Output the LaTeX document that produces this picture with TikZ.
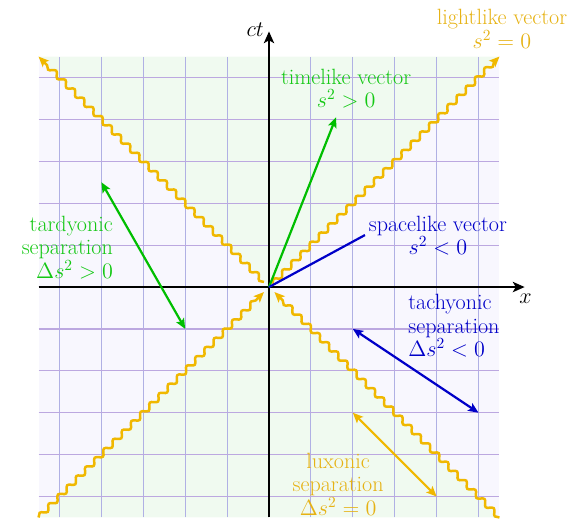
\documentclass[tikz,border=0pt]{standalone}
\usepackage{fix-cm}
\usepackage{tikz}
\usetikzlibrary{arrows.meta,decorations.pathmorphing}
\definecolor{gold}{RGB}{240,184,0}
\definecolor{gtxt}{RGB}{230,178,20}
\definecolor{grn}{RGB}{0,190,0}
\definecolor{gtx}{RGB}{20,200,20}
\definecolor{blu}{RGB}{0,0,200}
\definecolor{spacebg}{RGB}{248,247,254}
\definecolor{timebg}{RGB}{240,250,240}
\definecolor{gridv}{RGB}{176,176,228}
\definecolor{gridh}{RGB}{188,168,224}
\begin{document}
\begin{tikzpicture}[
  lbl/.style={font=\fontsize{15}{16}\selectfont, inner sep=0pt},
  lightray/.style={gold, line width=1.7pt, decorate,
    decoration={snake, segment length=3.1mm, amplitude=0.6mm, post length=1.5mm}},
  tipend/.style={-{Stealth[length=7pt,width=6pt,inset=1.5pt]}},
  tipboth/.style={{Stealth[length=7pt,width=6pt,inset=1.5pt]}-{Stealth[length=7pt,width=6pt,inset=1.5pt]}},
  vec/.style={line width=1.5pt},
  axisline/.style={line width=1.3pt, -{Stealth[length=8pt,width=7pt,inset=2pt]}},
]
\useasboundingbox (-6.42,-5.61) rectangle (7.47,6.85);
% regions
\fill[spacebg] (-5.5,-5.5) rectangle (5.5,5.5);
\fill[timebg] (0,0) -- (-5.5,5.5) -- (5.5,5.5) -- cycle;
\fill[timebg] (0,0) -- (-5.5,-5.5) -- (5.5,-5.5) -- cycle;
% grid
\foreach \i in {-5,...,5} { \draw[gridv, line width=0.8pt] (\i,-5.5) -- (\i,5.5); }
\foreach \i in {-5,...,5} { \draw[gridh, line width=0.8pt] (-5.5,\i) -- (5.5,\i); }
% coordinates
\coordinate (O) at (0,0);
\coordinate (NE) at (5.5,5.5);
\coordinate (NW) at (-5.5,5.5);
\coordinate (SW) at (-5.5,-5.5);
\coordinate (SE) at (5.5,-5.5);
\coordinate (ne0) at (0.08,0.08);
\coordinate (nw0) at (-0.12,0.12);
\coordinate (sw0) at (-0.12,-0.12);
\coordinate (se0) at (0.13,-0.12);
% light rays
\draw[lightray, tipend] (ne0) -- (NE);
\draw[lightray, tipend] (nw0) -- (NW);
\draw[lightray, tipend] (SW) -- (sw0);
\draw[lightray, tipend] (SE) -- (se0);
% axes
\coordinate (xs) at (-5.5,0);
\coordinate (xe) at (6.1,0);
\coordinate (ts) at (0,-5.5);
\coordinate (te) at (0,6.1);
\draw[axisline] (xs) -- (xe);
\draw[axisline] (ts) -- (te);
\node[lbl] (ctlab) at (-0.33,6.13) {$ct$};
\node[lbl] (xlab) at (6.12,-0.27) {$x$};
% vectors
\coordinate (tv) at (1.6,4.05);
\draw[grn, vec, tipend] (O) -- (tv);
\coordinate (sv) at (2.29,1.24);
\draw[blu, vec] (O) -- (sv);
\coordinate (tda) at (-4,2.5);
\coordinate (tdb) at (-2,-1);
\draw[grn, vec, tipboth] (tda) -- (tdb);
\coordinate (tca) at (2,-1);
\coordinate (tcb) at (5,-3);
\draw[blu, vec, tipboth] (tca) -- (tcb);
\coordinate (lxa) at (2,-3);
\coordinate (lxb) at (4,-5);
\draw[gold, vec, tipboth] (lxa) -- (lxb);
% labels
\node[lbl, text=gtxt, align=center] (lightlbl) at (5.56,6.16)
  {lightlike vector\\$s^2=0$};
\node[lbl, text=gtx, align=center] (timelbl) at (1.84,4.73)
  {timelike vector\\$s^2>0$};
\node[lbl, text=blu, align=center] (spacelbl) at (4.03,1.23)
  {spacelike vector\\$s^2<0$};
\node[lbl, text=gtx, align=right, anchor=east] (tardlbl) at (-3.72,0.95)
  {tardyonic\\separation\\$\Delta s^2>0$};
\node[lbl, text=blu, align=left, anchor=west] (tachlbl) at (3.32,-0.93)
  {tachyonic\\separation\\$\Delta s^2<0$};
\node[lbl, text=gtxt, align=center] (luxlbl) at (1.65,-4.70)
  {luxonic\\separation\\$\Delta s^2=0$};
\end{tikzpicture}
\end{document}
